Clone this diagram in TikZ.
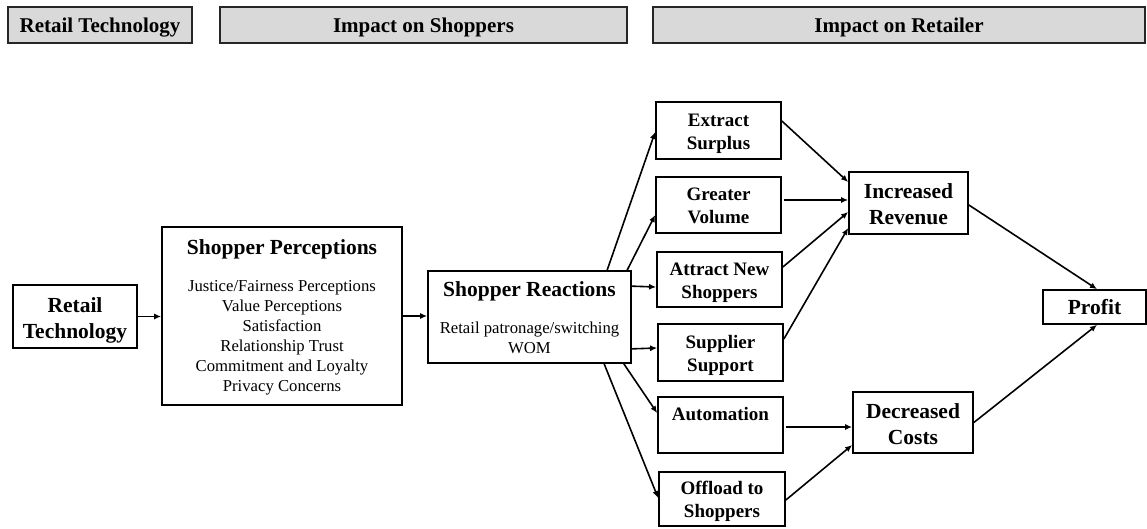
\documentclass[tikz,border=0pt]{standalone}
\usepackage{fontspec}
\setmainfont{Liberation Serif}
\usetikzlibrary{calc,arrows.meta}
\begin{document}
\begin{tikzpicture}[x=1pt,y=-1pt,
  hdr/.style={draw=black!85, line width=2pt, fill=black!15, inner sep=0pt, minimum height=36pt, text height=14pt, text depth=0pt, font=\fontsize{21}{25}\selectfont\bfseries},
  box/.style={draw, line width=1.7pt, inner sep=0pt, align=center},
  big/.style={box, text height=43pt, text depth=0pt, font=\fontsize{21.5}{26}\selectfont\bfseries},
  sm/.style={box, text height=37.6pt, text depth=0pt, font=\fontsize{19}{23}\selectfont\bfseries},
  ttl/.style={inner sep=0pt, anchor=base, font=\fontsize{21.5}{25}\selectfont\bfseries},
  body/.style={inner sep=0pt, anchor=base, align=center, font=\fontsize{16.7}{20}\selectfont},
  arr/.style={line width=1.6pt, -{Latex[length=7pt,width=6pt]}}]
\useasboundingbox (0,0) rectangle (1147,528);
% headers
\node[hdr, minimum width=184pt] (h1) at (100,25) {Retail Technology};
\node[hdr, minimum width=407pt] (h2) at (423.5,25) {Impact on Shoppers};
\node[hdr, minimum width=492pt] (h3) at (899,25) {Impact on Retailer};
% main boxes
\node[big, minimum width=124pt, minimum height=63pt] (rt) at (75,316.5) {Retail\\Technology};
\node[box, minimum width=240pt, minimum height=178pt] (sp) at (282,316) {};
\node[ttl] (spt) at (282,254) {Shopper Perceptions};
\node[body] (spb) at (282,391) {Justice/Fairness Perceptions\\Value Perceptions\\Satisfaction\\Relationship Trust\\Commitment and Loyalty\\Privacy Concerns};
\node[box, minimum width=203pt, minimum height=92pt] (sr) at (529.5,317) {};
\node[ttl] (srt) at (529.5,296.5) {Shopper Reactions};
\node[body, font=\fontsize{16.7}{19.5}\selectfont] (srb) at (529.5,353.3) {Retail patronage/switching\\WOM};
% outcome boxes
\node[sm, minimum width=125pt, minimum height=57pt] (es) at (718.5,130.5) {Extract\\Surplus};
\node[sm, minimum width=125pt, minimum height=56pt] (gv) at (718.5,205) {Greater\\Volume};
\node[sm, minimum width=125pt, minimum height=55pt] (an) at (719.5,279.5) {Attract New\\Shoppers};
\node[sm, minimum width=125pt, minimum height=57pt] (ss) at (720.5,352.5) {Supplier\\Support};
\node[sm, minimum width=125pt, minimum height=56pt] (au) at (720.5,425) {Automation\\\mbox{}};
\node[sm, minimum width=126pt, minimum height=54pt] (of) at (722,499) {Offload to\\Shoppers};
\node[big, minimum width=119pt, minimum height=62pt] (ir) at (908.5,203) {Increased\\Revenue};
\node[big, minimum width=120pt, minimum height=61pt] (dc) at (913,422.5) {Decreased\\Costs};
\node[box, minimum width=103pt, minimum height=34pt, font=\fontsize{21.5}{26}\selectfont\bfseries] (pr) at (1094.5,307) {Profit};
% connectors
\draw[arr] (rt.east) -- (rt.east -| sp.west);
\draw[arr] (sp.east) -- (sp.east -| sr.west);
\draw[arr] ($(sr.north west)+(180,0)$) -- ($(es.west)+(0,1.5)$);
\draw[arr] ($(sr.north west)+(200,0)$) -- ($(gv.west)+(0,10)$);
\draw[arr] ($(sr.north east)+(0,16)$) -- ($(an.west)+(0,7.5)$);
\draw[arr] ($(sr.south east)+(0,-15)$) -- ($(ss.west)+(0,-4.5)$);
\draw[arr] ($(sr.south east)+(-8,0)$) -- ($(au.west)+(0,-12)$);
\draw[arr] ($(sr.south west)+(177,0)$) -- ($(of.west)+(0,-1)$);
\draw[arr] ($(es.east)+(0,-9.5)$) -- ($(ir.west)+(0,-21)$);
\draw[arr] ($(gv.east)+(2,-5)$) -- ($(ir.west)+(0,-3)$);
\draw[arr] ($(an.east)+(0,-12.5)$) -- ($(ir.west)+(0,9)$);
\draw[arr] ($(ss.east)+(0,-13.5)$) -- ($(ir.west)+(0,25)$);
\draw[arr] ($(au.east)+(2,2)$) -- ($(dc.west)+(0,4.5)$);
\draw[arr] ($(of.east)+(0,1)$) -- ($(dc.west)+(0,22.5)$);
\draw[arr] ($(ir.east)+(0,2)$) -- ($(pr.north)+(2.5,0)$);
\draw[arr] (dc.east) -- ($(pr.south)+(2.5,0)$);
\end{tikzpicture}
\end{document}
